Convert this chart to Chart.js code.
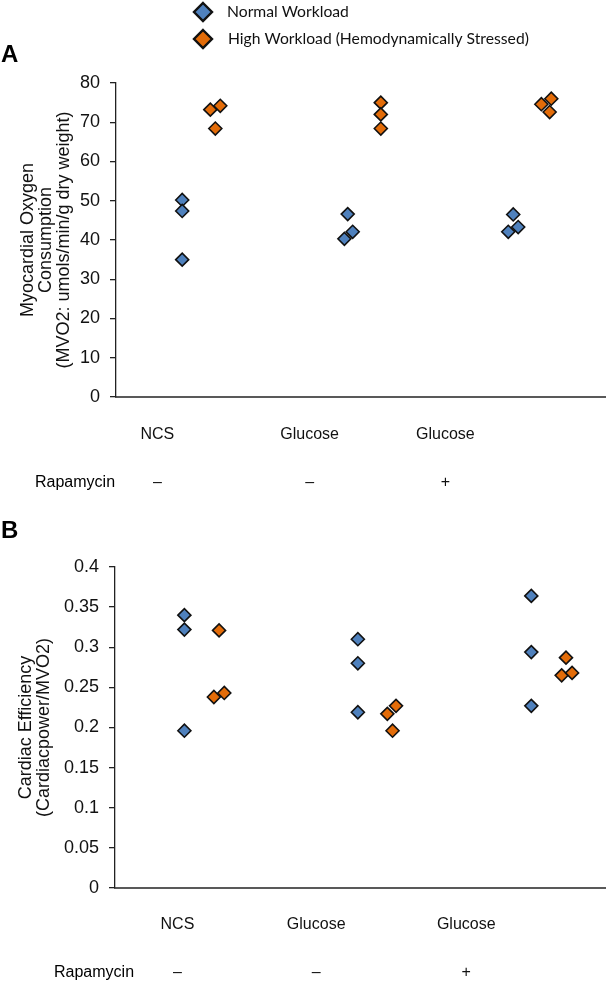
<!DOCTYPE html>
<html>
<head>
<meta charset="utf-8">
<script src="https://cdn.jsdelivr.net/npm/chart.js@4/dist/chart.umd.min.js"></script>
<style>
  html, body { margin: 0; padding: 0; background: #fff; }
  #wrap { width: 614px; height: 986px; position: relative; }
  canvas { display: block; }
</style>
</head>
<body>
<div id="wrap">
  <canvas id="chartA" width="614" height="500"></canvas>
  <canvas id="chartB" width="614" height="486"></canvas>
</div>
<script>
// ---------- DATA ----------
const seriesNames = ["Normal Workload", "High Workload (Hemodynamically Stressed)"];
const categories = ["NCS", "Glucose", "Glucose"];
const rapamycin = ["–", "–", "+"];

// Panel A: Myocardial oxygen consumption
const aTicks = [0, 10, 20, 30, 40, 50, 60, 70, 80];
const aNormalX = [1.0, 1.0, 1.0, 2.0, 2.03, 1.98, 3.0, 3.03, 2.97];
const aNormalY = [50.2, 47.4, 35.0, 46.6, 42.1, 40.3, 46.5, 43.3, 42.1];
const aHighX   = [1.17, 1.23, 1.2, 2.2, 2.2, 2.2, 3.23, 3.17, 3.22];
const aHighY   = [73.2, 74.2, 68.4, 75.0, 72.0, 68.4, 76.0, 74.6, 72.6];

// Panel B: Cardiac efficiency
const bTicks = [0, 0.05, 0.1, 0.15, 0.2, 0.25, 0.3, 0.35, 0.4];
const bNormalX = [1, 1, 1, 2, 2, 2, 3, 3, 3];
const bNormalY = [0.340, 0.322, 0.196, 0.310, 0.280, 0.219, 0.364, 0.294, 0.227];
const bHighX   = [1.2, 1.17, 1.23, 2.17, 2.22, 2.2, 3.2, 3.175, 3.235];
const bHighY   = [0.321, 0.238, 0.243, 0.217, 0.227, 0.196, 0.287, 0.265, 0.268];

// ---------- STYLE / LAYOUT ----------
const BLUE = '#4F81BD';
const ORANGE = '#E36C09';
const FONT = "'Liberation Sans', Arial, sans-serif";

function pts(xs, ys) { return xs.map((x, i) => ({ x: x, y: ys[i] })); }

function ds(label, data, color) {
  return {
    label: label,
    data: data,
    pointStyle: 'rectRot',
    pointRadius: 6.5,
    pointHoverRadius: 6.5,
    backgroundColor: color,
    borderColor: '#111',
    borderWidth: 1.6,
    showLine: false,
    clip: false
  };
}

const textPlugin = {
  id: 'extraText',
  afterDraw(chart, args, opts) {
    const ctx = chart.ctx;
    (opts.items || []).forEach(it => {
      ctx.save();
      ctx.font = it.font;
      ctx.fillStyle = it.color || '#000';
      ctx.textAlign = it.align || 'left';
      ctx.textBaseline = 'middle';
      ctx.fillText(it.text, it.x, it.y);
      ctx.restore();
    });
  }
};

const legendPlugin = {
  id: 'vLegend',
  afterDraw(chart, args, opts) {
    if (!opts.show) return;
    const ctx = chart.ctx;
    chart.data.datasets.forEach((d, i) => {
      const cx = opts.x, cy = opts.y + i * opts.gap, r = opts.r;
      ctx.save();
      ctx.beginPath();
      ctx.moveTo(cx, cy - r);
      ctx.lineTo(cx + r, cy);
      ctx.lineTo(cx, cy + r);
      ctx.lineTo(cx - r, cy);
      ctx.closePath();
      ctx.fillStyle = d.backgroundColor;
      ctx.fill();
      ctx.lineWidth = 2.4;
      ctx.strokeStyle = '#111';
      ctx.stroke();
      ctx.font = opts.font;
      ctx.fillStyle = '#111';
      ctx.textAlign = 'left';
      ctx.textBaseline = 'middle';
      ctx.fillText(d.label, opts.textX + i * 1, cy);
      ctx.restore();
    });
  }
};

function makeChart(id, cfg) {
  return new Chart(document.getElementById(id), {
    type: 'scatter',
    data: {
      datasets: [
        ds(seriesNames[0], pts(cfg.nx, cfg.ny), BLUE),
        ds(seriesNames[1], pts(cfg.hx, cfg.hy), ORANGE)
      ]
    },
    options: {
      responsive: false,
      animation: false,
      devicePixelRatio: 1,
      layout: { padding: { top: cfg.padTop, right: 1, bottom: 0, left: 0 } },
      plugins: {
        legend: { display: false },
        tooltip: { enabled: false },
        extraText: { items: cfg.texts },
        vLegend: cfg.legend
      },
      scales: {
        x: {
          type: 'linear',
          min: cfg.xMin,
          max: cfg.xMax,
          afterBuildTicks: s => { s.ticks = cfg.labelPos.map(v => ({ value: v })); },
          afterFit: s => { s.height = cfg.xHeight; },
          grid: { display: false, drawTicks: false },
          border: { display: true, color: '#595959', width: 2 },
          ticks: {
            autoSkip: false,
            maxRotation: 0,
            padding: cfg.xPad,
            color: '#111',
            font: { family: FONT, size: 16, lineHeight: 1.5 },
            callback: (v, i) => [categories[i], '', rapamycin[i]]
          }
        },
        y: {
          min: cfg.yTicks[0],
          max: cfg.yTicks[cfg.yTicks.length - 1],
          afterBuildTicks: s => { s.ticks = cfg.yTicks.map(v => ({ value: v })); },
          afterFit: s => { s.width = cfg.yWidth; },
          grid: { display: true, drawOnChartArea: false, drawTicks: true, tickLength: 6, color: '#222', lineWidth: 1.3 },
          border: { display: true, color: '#222', width: 1.3 },
          ticks: {
            padding: 10,
            color: '#111',
            font: { family: FONT, size: 18 },
            callback: v => String(Number(v.toFixed(2)))
          },
          title: {
            display: true,
            text: cfg.yTitle,
            color: '#111',
            font: { family: FONT, size: 18, lineHeight: 1.0 },
            padding: { top: cfg.titlePad, bottom: 0 }
          }
        }
      }
    },
    plugins: [textPlugin, legendPlugin]
  });
}

makeChart('chartA', {
  nx: aNormalX, ny: aNormalY, hx: aHighX, hy: aHighY,
  yTicks: aTicks,
  xMin: 0.6, xMax: 3.56,
  labelPos: [0.85, 1.77, 2.59],
  padTop: 83, xHeight: 103, xPad: 26, yWidth: 116, titlePad: 19,
  yTitle: ['Myocardial Oxygen', 'Consumption', '(MVO2: umols/min/g dry weight)'],
  texts: [
    { text: 'A', x: 1, y: 55, font: "bold 24px " + FONT },
    { text: 'Rapamycin', x: 35, y: 483, font: "16px " + FONT }
  ],
  legend: { show: true, x: 203, y: 12, gap: 27, r: 9, textX: 227, font: "15.7px Lato, 'Open Sans', sans-serif" }
});

makeChart('chartB', {
  nx: bNormalX, ny: bNormalY, hx: bHighX, hy: bHighY,
  yTicks: bTicks,
  xMin: 0.6, xMax: 3.43,
  labelPos: [0.96, 1.76, 2.625],
  padTop: 67, xHeight: 98, xPad: 25, yWidth: 115, titlePad: 17,
  yTitle: ['Cardiac Efficiency', '(Cardiacpower/MVO2)'],
  texts: [
    { text: 'B', x: 1, y: 31, font: "bold 24px " + FONT },
    { text: 'Rapamycin', x: 54, y: 473, font: "16px " + FONT }
  ],
  legend: { show: false }
});
</script>
</body>
</html>
